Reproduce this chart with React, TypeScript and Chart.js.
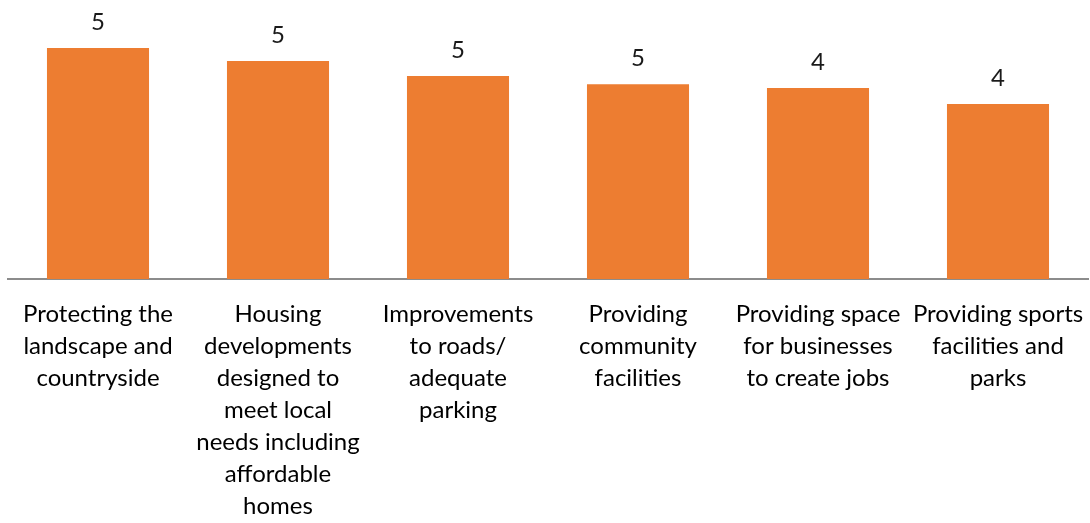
import React, { useEffect, useRef } from "react";
import { Chart, registerables } from "chart.js";

Chart.register(...registerables);

const categories: string[][] = [
  ["Protecting the", "landscape and", "countryside"],
  ["Housing", "developments", "designed to", "meet local", "needs including", "affordable", "homes"],
  ["Improvements", "to roads/", "adequate", "parking"],
  ["Providing", "community", "facilities"],
  ["Providing space", "for businesses", "to create jobs"],
  ["Providing sports", "facilities and", "parks"],
];

const values: number[] = [5.37, 5.07, 4.72, 4.53, 4.44, 4.07];

const FONT = "Lato, 'Open Sans', sans-serif";

const valueLabels = {
  id: "valueLabels",
  afterDatasetsDraw(chart: any) {
    const ctx = chart.ctx;
    const meta = chart.getDatasetMeta(0);
    ctx.save();
    ctx.font = `24px ${FONT}`;
    ctx.fillStyle = "#1a1a1a";
    ctx.textAlign = "center";
    ctx.textBaseline = "alphabetic";
    meta.data.forEach((el: any, i: number) => {
      ctx.fillText(String(Math.round(values[i])), el.x, el.y - 18);
    });
    ctx.restore();
  },
};

export default function App() {
  const ref = useRef<HTMLCanvasElement | null>(null);
  useEffect(() => {
    if (!ref.current) return;
    const chart = new Chart(ref.current, {
      type: "bar",
      data: {
        labels: categories,
        datasets: [
          {
            data: values,
            backgroundColor: "#ED7D31",
            barPercentage: 0.567,
            categoryPercentage: 1,
          },
        ],
      },
      options: {
        animation: false,
        responsive: false,
        maintainAspectRatio: false,
        layout: { padding: { left: 8, right: 2, top: 21, bottom: 0 } },
        plugins: { legend: { display: false }, tooltip: { enabled: false } },
        scales: {
          x: {
            grid: { display: false, drawTicks: false },
            border: { display: true, color: "#8c8c8c", width: 2 },
            afterFit: (scale: any) => {
              scale.height = 244;
              scale.paddingLeft = 0;
              scale.paddingRight = 0;
            },
            ticks: {
              autoSkip: false,
              maxRotation: 0,
              minRotation: 0,
              padding: 19,
              color: "#000",
              font: { family: FONT, size: 24, lineHeight: 1.333 },
            },
          },
          y: {
            display: false,
            min: 0,
            max: 6,
          },
        },
      },
      plugins: [valueLabels],
    });
    return () => chart.destroy();
  }, []);
  return (
    <div style={{ position: "fixed", left: 0, top: 0, width: 1090, height: 523, background: "#fff" }}>
      <canvas ref={ref} width={1090} height={523} style={{ width: 1090, height: 523 }} />
    </div>
  );
}
